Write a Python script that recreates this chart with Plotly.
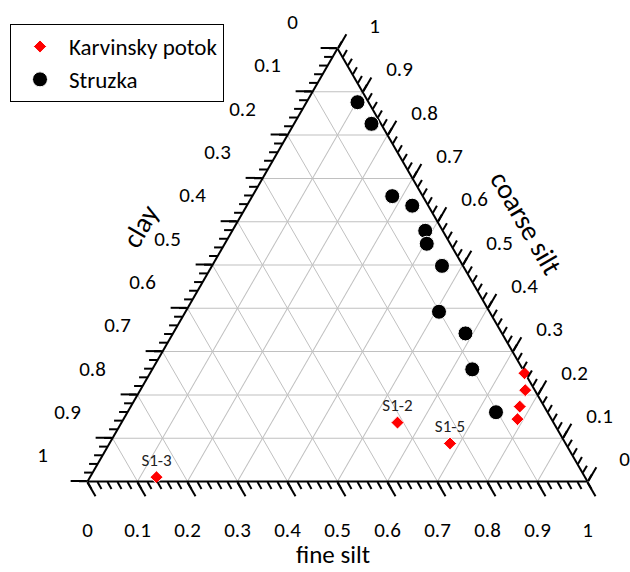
import plotly.graph_objects as go

# Sample composition (fractions): coarse silt, clay, fine silt
struzka_coarse = [0.876, 0.826, 0.659, 0.637, 0.579, 0.549, 0.498, 0.392, 0.342, 0.259, 0.160]
struzka_clay   = [0.022, 0.019, 0.061, 0.032, 0.035, 0.047, 0.042, 0.101, 0.073, 0.101, 0.103]
struzka_fine   = [0.102, 0.155, 0.280, 0.331, 0.386, 0.404, 0.460, 0.507, 0.585, 0.640, 0.737]

karv_coarse = [0.010, 0.136, 0.088, 0.250, 0.211, 0.173, 0.144]
karv_clay   = [0.857, 0.312, 0.231, 0.001, 0.019, 0.049, 0.068]
karv_fine   = [0.133, 0.552, 0.681, 0.749, 0.770, 0.778, 0.788]
karv_names  = ["S1-3", "S1-2", "S1-5", "", "", "", ""]

major_vals = [i / 10 for i in range(11)]
major_text = [f"{v:g}" for v in major_vals]

FONT = "Carlito, Lato, sans-serif"
TICK_FS = 21
PAPER_W, PAPER_H = 630, 572
TRI_W, TRI_H = 500.0, 433.0            # triangle size in px
TRI_LEFT, TRI_BOTTOM = 87.5, 481.5     # its bottom-left corner in px
DOMAIN = dict(x=[TRI_LEFT / PAPER_W, (TRI_LEFT + TRI_W) / PAPER_W],
              y=[1 - TRI_BOTTOM / PAPER_H, 1 - (TRI_BOTTOM - TRI_H) / PAPER_H])


def edge_point(edge, v):
    """(coarse, clay, fine) of value v on an edge's scale."""
    if edge == "left":      # clay
        return 1 - v, v, 0.0
    if edge == "bottom":    # fine silt
        return 0.0, 1 - v, v
    return v, 0.0, 1 - v    # right: coarse silt


def shift(p, dx, dy):
    """Move a ternary point by (dx right, dy down) pixels."""
    a, b, c = p
    da = -dy / TRI_H
    dc = dx / TRI_W - da / 2
    return a + da, b - da - dc, c + dc


def text_w(s):
    return sum(0.507 if ch.isdigit() else 0.252 for ch in s) * TICK_FS


fig = go.Figure()

# tick labels: anchored inside the triangle, offset by an invisible marker
la, lb, lc, lt, lpos, lsize = [], [], [], [], [], []
for edge in ("left", "bottom", "right"):
    for v, s in zip(major_vals, major_text):
        p = edge_point(edge, v)
        w = text_w(s)
        if edge == "bottom":
            r, pos, q = 48.5 - 0.434 * TICK_FS, "bottom center", p
        elif edge == "left":
            if v < 1:
                r = 45 - w / 2
                pos, q = "top left", shift(p, 0, r + 0.566 * TICK_FS - 26)
            else:
                r = 59
                pos, q = "middle left", shift(p, r + w / 2 - 45, -26 + 0.066 * TICK_FS)
        else:
            if v > 0:
                r = 37 - w / 2
                pos, q = "top right", shift(p, 0, r + 0.566 * TICK_FS - 22)
            else:
                r = 48
                pos, q = "middle right", shift(p, 37 - r - w / 2, -22 + 0.066 * TICK_FS)
        la.append(q[0]); lb.append(q[1]); lc.append(q[2])
        lt.append(s); lpos.append(pos); lsize.append(1.6 * (r - 1))
fig.add_trace(go.Scatterternary(
    a=la, b=lb, c=lc, mode="markers+text", text=lt, textposition=lpos,
    marker=dict(size=lsize, opacity=0, line=dict(width=0)),
    textfont=dict(family=FONT, size=TICK_FS, color="black"),
    showlegend=False, hoverinfo="skip", cliponaxis=False,
))

fig.add_trace(go.Scatterternary(
    a=karv_coarse, b=karv_clay, c=karv_fine,
    mode="markers+text", text=karv_names, textposition="top center",
    textfont=dict(family=FONT, size=17, color="#222222"),
    marker=dict(symbol="diamond", size=10, color="#ff0000",
                line=dict(color="white", width=1)),
    name="Karvinsky potok", legendgroup="k", cliponaxis=False,
))
fig.add_trace(go.Scatterternary(
    a=struzka_coarse, b=struzka_clay, c=struzka_fine,
    mode="markers",
    marker=dict(symbol="circle", size=15, color="#000000",
                line=dict(color="white", width=1)),
    name="Struzka", legendgroup="s", cliponaxis=False,
))

# transparent copy so the overlay subplot carrying the minor ticks gets drawn
fig.add_trace(go.Scatterternary(
    a=struzka_coarse, b=struzka_clay, c=struzka_fine, mode="markers",
    marker=dict(opacity=0), showlegend=False, hoverinfo="skip", subplot="ternary2",
))


def axis():
    # edges, grid and major ticks
    return dict(min=0, showline=True, linecolor="black", linewidth=2,
                showgrid=True, gridcolor="#c0c0c0", gridwidth=1.2,
                tickmode="array", tickvals=major_vals, ticks="outside",
                ticklen=16, tickwidth=1.5, tickcolor="black",
                showticklabels=False, title=dict(text=""), layer="below traces")


def minor_axis():
    return dict(min=0, showline=False, showgrid=False,
                ticks="outside", tickmode="linear", tick0=0, dtick=0.02,
                ticklen=8, tickwidth=1.5, tickcolor="black",
                showticklabels=False, title=dict(text=""))


fig.update_layout(
    width=PAPER_W, height=PAPER_H,
    margin=dict(l=0, r=0, t=0, b=0),
    paper_bgcolor="white",
    ternary=dict(domain=DOMAIN, sum=1, bgcolor="white",
                 aaxis=axis(), baxis=axis(), caxis=axis()),
    ternary2=dict(domain=DOMAIN, sum=1, bgcolor="rgba(0,0,0,0)",
                  aaxis=minor_axis(), baxis=minor_axis(), caxis=minor_axis()),
    legend=dict(x=10 / PAPER_W, y=1 - 24 / PAPER_H, xanchor="left", yanchor="top",
                bordercolor="black", borderwidth=1, bgcolor="white",
                font=dict(family=FONT, size=23, color="black"), itemwidth=48,
                tracegroupgap=0),
    annotations=[
        dict(text="clay", x=140 / PAPER_W, y=1 - 226 / PAPER_H, xref="paper", yref="paper",
             xanchor="center", yanchor="middle", showarrow=False, textangle=-60,
             font=dict(family=FONT, size=28, color="black")),
        dict(text="coarse silt", x=526 / PAPER_W, y=1 - 222 / PAPER_H, xref="paper", yref="paper",
             xanchor="center", yanchor="middle", showarrow=False, textangle=60,
             font=dict(family=FONT, size=28, color="black")),
        dict(text="fine silt", x=333 / PAPER_W, y=0, xref="paper", yref="paper",
             xanchor="center", yanchor="bottom", showarrow=False,
             font=dict(family=FONT, size=25, color="black")),
    ],
)

fig.write_html("out.html")
